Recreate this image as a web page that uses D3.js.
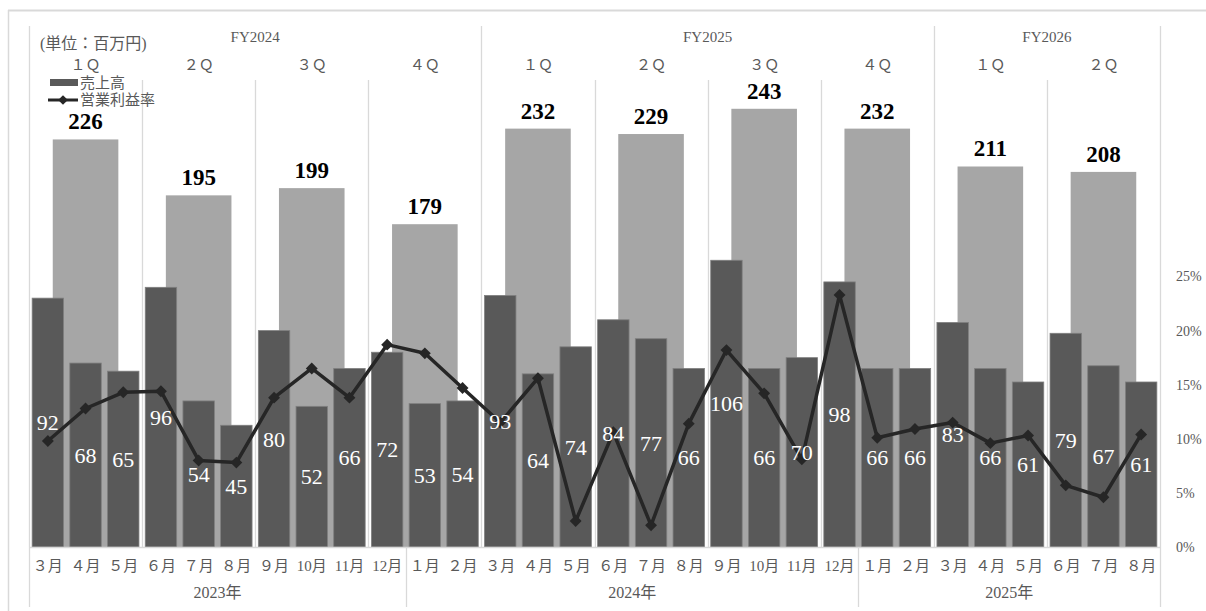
<!DOCTYPE html>
<html>
<head>
<meta charset="utf-8">
<script src="https://cdn.jsdelivr.net/npm/d3@7"></script>
<style>
  html, body { margin: 0; padding: 0; background: #fff; }
  svg { display: block; }
  text { font-family: "Liberation Serif", "Noto Sans CJK JP", serif; }
</style>
</head>
<body>
<svg id="chart" width="1206" height="611"></svg>
<script>
// Monthly data (売上高, 営業利益率)
const monthKeys = [
  "2023-03", "2023-04", "2023-05", "2023-06", "2023-07", "2023-08", "2023-09", "2023-10", "2023-11", "2023-12",
  "2024-01", "2024-02", "2024-03", "2024-04", "2024-05", "2024-06", "2024-07", "2024-08", "2024-09", "2024-10", "2024-11", "2024-12",
  "2025-01", "2025-02", "2025-03", "2025-04", "2025-05", "2025-06", "2025-07", "2025-08",
];
const monthLabels = [
  "３月", "４月", "５月", "６月", "７月", "８月", "９月", "10月", "11月", "12月",
  "１月", "２月", "３月", "４月", "５月", "６月", "７月", "８月", "９月", "10月", "11月", "12月",
  "１月", "２月", "３月", "４月", "５月", "６月", "７月", "８月",
];
const monthSales = [92, 68, 65, 96, 54, 45, 80, 52, 66, 72, 53, 54, 93, 64, 74, 84, 77, 66, 106, 66, 70, 98, 66, 66, 83, 66, 61, 79, 67, 61];
const monthMargin = [9.8, 12.8, 14.3, 14.4, 8.0, 7.8, 13.8, 16.5, 13.8, 18.7, 17.9, 14.7, 11.5, 15.6, 2.4, 10.6, 2.0, 11.4, 18.2, 14.2, 8.1, 23.3, 10.1, 10.9, 11.5, 9.6, 10.3, 5.7, 4.6, 10.4];

// Quarterly data
const quarterKeys = ["FY2024-1", "FY2024-2", "FY2024-3", "FY2024-4", "FY2025-1", "FY2025-2", "FY2025-3", "FY2025-4", "FY2026-1", "FY2026-2"];
const quarterLabels = ["１Ｑ", "２Ｑ", "３Ｑ", "４Ｑ", "１Ｑ", "２Ｑ", "３Ｑ", "４Ｑ", "１Ｑ", "２Ｑ"];
const quarterSales = [226, 195, 199, 179, 232, 229, 243, 232, 211, 208];

const fiscalYears = ["FY2024", "FY2025", "FY2026"];
const calendarYears = ["2023", "2024", "2025"];
const pctTicks = [0, 5, 10, 15, 20, 25];

const GRID = "#d9d9d9";
const TEXT = "#595959";

const svg = d3.select("#chart");

// Plot area
const plotLeft = 29, plotRight = 1160, plotTop = 6, plotBottom = 547;

const xM = d3.scaleBand().domain(monthKeys).range([plotLeft, plotRight]).paddingInner(0.14).paddingOuter(0.07);
const xQ = d3.scaleBand().domain(quarterKeys).range([plotLeft, plotRight]).paddingInner(0.42).paddingOuter(0.21);
const yM = d3.scaleLinear().domain([0, 200]).range([plotBottom, plotTop]);
const yQ = d3.scaleLinear().domain([0, 300]).range([plotBottom, plotTop]);
const yP = d3.scaleLinear().domain([0, 50]).range([plotBottom, plotTop]);

// Outer frame
svg.append("line").attr("x1", 8).attr("x2", 1206).attr("y1", 10.5).attr("y2", 10.5).attr("stroke", GRID).attr("stroke-width", 2);
svg.append("line").attr("x1", 8.5).attr("x2", 8.5).attr("y1", 10).attr("y2", 611).attr("stroke", GRID).attr("stroke-width", 1.5);

// Quarter / fiscal year separators
const qStep = xQ.step();
const qBounds = d3.range(quarterKeys.length + 1);
const fyCount = fiscalYears.map((fy) => quarterKeys.filter((k) => k.startsWith(fy)).length);
const fyStartIdx = fyCount.map((c, i) => d3.sum(fyCount.slice(0, i)));
const fyBoundIdx = new Set([...fyStartIdx, quarterKeys.length]);

svg.append("g").selectAll("line").data(qBounds).join("line")
  .attr("x1", (i) => Math.round(plotLeft + i * qStep) + 0.5)
  .attr("x2", (i) => Math.round(plotLeft + i * qStep) + 0.5)
  .attr("y1", (i) => (fyBoundIdx.has(i) ? 26 : 80))
  .attr("y2", plotBottom)
  .attr("stroke", GRID).attr("stroke-width", 1.3);

// Quarterly bars (light)
svg.append("g").selectAll("rect").data(quarterSales).join("rect")
  .attr("x", (d, i) => xQ(quarterKeys[i]))
  .attr("y", (d) => yQ(d))
  .attr("width", xQ.bandwidth())
  .attr("height", (d) => plotBottom - yQ(d))
  .attr("fill", "#a6a6a6");

// Monthly bars (dark)
svg.append("g").selectAll("rect").data(monthSales).join("rect")
  .attr("x", (d, i) => xM(monthKeys[i]) + 0.5)
  .attr("y", (d) => yM(d))
  .attr("width", xM.bandwidth() - 1)
  .attr("height", (d) => plotBottom - yM(d))
  .attr("fill", "#595959")
  .attr("stroke", "#7f7f7f").attr("stroke-width", 0.8);

// Bottom axis line
svg.append("line").attr("x1", plotLeft).attr("x2", plotRight).attr("y1", plotBottom + 0.5).attr("y2", plotBottom + 0.5)
  .attr("stroke", GRID).attr("stroke-width", 1.3);

// Calendar year separators below the axis
const mStep = xM.step();
const yearCount = calendarYears.map((y) => monthKeys.filter((k) => k.startsWith(y)).length);
const yearStart = yearCount.map((c, i) => d3.sum(yearCount.slice(0, i)));
const yearBounds = [...yearStart, monthKeys.length];
svg.append("g").selectAll("line").data(yearBounds).join("line")
  .attr("x1", (i) => Math.round(plotLeft + i * mStep) + 0.5)
  .attr("x2", (i) => Math.round(plotLeft + i * mStep) + 0.5)
  .attr("y1", plotBottom).attr("y2", 607)
  .attr("stroke", GRID).attr("stroke-width", 1.3);

// Operating margin line
const line = d3.line().x((d, i) => xM(monthKeys[i]) + xM.bandwidth() / 2).y((d) => yP(d));
svg.append("path").datum(monthMargin)
  .attr("d", line).attr("fill", "none")
  .attr("stroke", "#262626").attr("stroke-width", 3.5).attr("stroke-linejoin", "round");

const diamond = d3.symbol().type(d3.symbolDiamond2).size(90);
svg.append("g").selectAll("path").data(monthMargin).join("path")
  .attr("transform", (d, i) => `translate(${xM(monthKeys[i]) + xM.bandwidth() / 2},${yP(d)})`)
  .attr("d", diamond)
  .attr("fill", "#262626");

// Monthly value labels (centered in bar)
svg.append("g").selectAll("text").data(monthSales).join("text")
  .attr("x", (d, i) => xM(monthKeys[i]) + xM.bandwidth() / 2)
  .attr("y", (d) => (yM(d) + plotBottom) / 2)
  .attr("dy", "0.35em")
  .attr("text-anchor", "middle")
  .attr("font-size", 22)
  .attr("fill", "#fff")
  .text((d) => d);

// Quarterly value labels
svg.append("g").selectAll("text").data(quarterSales).join("text")
  .attr("x", (d, i) => xQ(quarterKeys[i]) + xQ.bandwidth() / 2)
  .attr("y", (d) => yQ(d) - 10)
  .attr("text-anchor", "middle")
  .attr("font-size", 23)
  .attr("font-weight", "bold")
  .attr("fill", "#000")
  .text((d) => d);

// Quarter labels
svg.append("g").selectAll("text").data(quarterLabels).join("text")
  .attr("x", (d, i) => xQ(quarterKeys[i]) + xQ.bandwidth() / 2)
  .attr("y", 70)
  .attr("text-anchor", "middle")
  .attr("font-size", 15)
  .attr("fill", TEXT)
  .text((d) => d);

// Fiscal year labels
svg.append("g").selectAll("text").data(fiscalYears).join("text")
  .attr("x", (d, i) => plotLeft + (fyStartIdx[i] + fyCount[i] / 2) * qStep)
  .attr("y", 42)
  .attr("text-anchor", "middle")
  .attr("font-size", 15)
  .attr("fill", TEXT)
  .text((d) => d);

// Month tick labels
svg.append("g").selectAll("text").data(monthLabels).join("text")
  .attr("x", (d, i) => xM(monthKeys[i]) + xM.bandwidth() / 2)
  .attr("y", 571)
  .attr("text-anchor", "middle")
  .attr("font-size", 15)
  .attr("fill", TEXT)
  .text((d) => d);

// Calendar year labels
svg.append("g").selectAll("text").data(calendarYears).join("text")
  .attr("x", (d, i) => plotLeft + (yearStart[i] + yearCount[i] / 2) * mStep)
  .attr("y", 598)
  .attr("text-anchor", "middle")
  .attr("font-size", 16)
  .attr("fill", TEXT)
  .text((d) => d + "年");

// Right percentage axis
svg.append("g").selectAll("text").data(pctTicks).join("text")
  .attr("x", 1176)
  .attr("y", (d) => yP(d))
  .attr("dy", "0.35em")
  .attr("font-size", 14)
  .attr("fill", TEXT)
  .text((d) => d + "%");

// Unit note
svg.append("text").attr("x", 40).attr("y", 49).attr("font-size", 16).attr("fill", TEXT).text("(単位：百万円)");

// Legend
const lg = svg.append("g").attr("transform", "translate(50,0)");
lg.append("rect").attr("x", 0).attr("y", 79).attr("width", 28).attr("height", 7).attr("fill", "#595959");
lg.append("text").attr("x", 30).attr("y", 88).attr("font-size", 15).attr("fill", TEXT).text("売上高");
lg.append("line").attr("x1", -2).attr("x2", 28).attr("y1", 100).attr("y2", 100).attr("stroke", "#262626").attr("stroke-width", 3);
lg.append("path").attr("transform", "translate(13,100)").attr("d", d3.symbol().type(d3.symbolDiamond2).size(60)).attr("fill", "#262626");
lg.append("text").attr("x", 30).attr("y", 105).attr("font-size", 15).attr("fill", TEXT).text("営業利益率");
</script>
</body>
</html>
